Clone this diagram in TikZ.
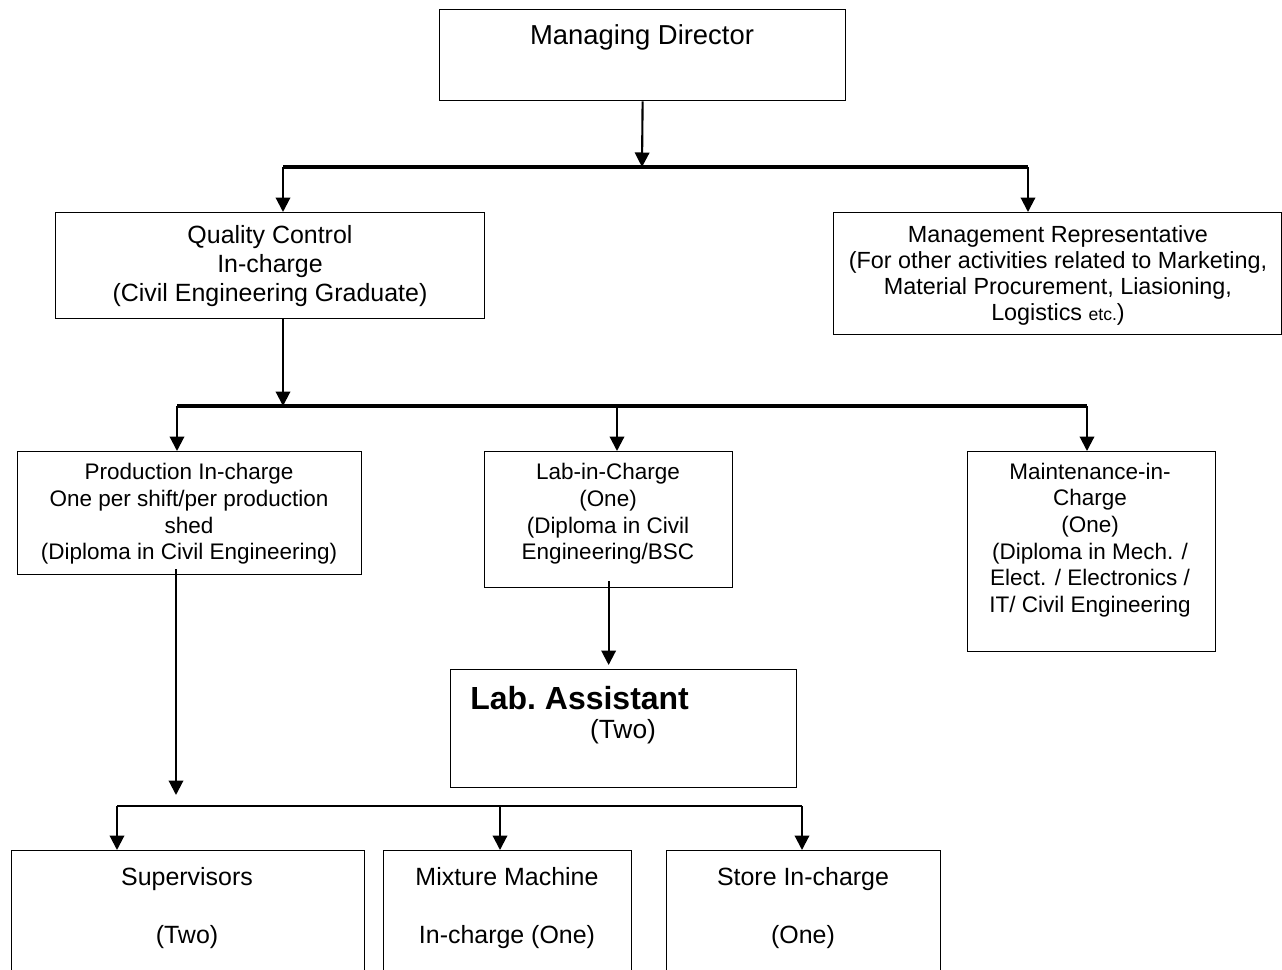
\documentclass[tikz,border=0pt]{standalone}
\usepackage{fontspec}
\setmainfont{Liberation Sans}
\usetikzlibrary{arrows.meta}

\begin{document}
\begin{tikzpicture}[x=0.02cm,y=-0.02cm,
	box/.style={draw,line width=0.75pt,inner sep=0pt,anchor=north west},
	arr/.style={-{Triangle[length=0.29cm,width=0.29cm]},line width=1.2pt},
	bar/.style={line width=2pt},
	txt/.style={align=center,inner sep=0pt,font=\fontsize{14.2}{16.5}\selectfont},
	bot/.style={txt,anchor=base},
	small/.style={align=center,inner sep=0pt,font=\fontsize{12.8}{15.2}\selectfont}]
						\useasboundingbox (0,0) rectangle (1282,970);
						%\draw[gray] (0,0) grid (1282,970);
						% boxes
						\node[box,minimum width=8.12cm,minimum height=1.82cm] (md) at (439,9) {};
						\node[box,minimum width=8.58cm,minimum height=2.12cm] (qc) at (55,212) {};
						\node[box,minimum width=8.96cm,minimum height=2.44cm] (mr) at (833,212) {};
						\node[box,minimum width=6.88cm,minimum height=2.46cm] (prod) at (17,451) {};
						\node[box,minimum width=4.96cm,minimum height=2.72cm] (lab) at (484,451) {};
						\node[box,minimum width=4.96cm,minimum height=4.00cm] (maint) at (967,451) {};
						\node[box,minimum width=6.92cm,minimum height=2.36cm] (asst) at (450,669) {};
						\node[box,minimum width=7.06cm,minimum height=2.8cm] (sup) at (11,850) {};
						\node[box,minimum width=4.96cm,minimum height=2.8cm] (mix) at (383,850) {};
						\node[box,minimum width=5.48cm,minimum height=2.8cm] (store) at (666,850) {};
						% texts
						\node[txt,font=\fontsize{15.6}{18}\selectfont] (mdt) at (642,37) {Managing Director};
						\node[txt] (qct) at (270,266) {Quality Control\\In-charge\\(Civil Engineering Graduate)};
						\node[txt,font=\fontsize{13.3}{14.8}\selectfont] (mrt) at (1058,275) {Management Representative\\(For other activities related to Marketing,\\Material Procurement, Liasioning,\\Logistics {\fontsize{10}{12}\selectfont etc.})};
						\node[small] (prodt) at (189,514) {Production In-charge\\One per shift/per production\\shed\\(Diploma in Civil Engineering)};
						\node[small] (labt) at (608,514) {Lab-in-Charge\\(One)\\(Diploma in Civil\\Engineering/BSC};
						\node[small] (maintt) at (1090,540) {Maintenance-in-\\Charge\\(One)\\(Diploma in Mech. /\\Elect. / Electronics /\\IT/ Civil Engineering};
						\node[anchor=west,inner sep=0pt,font=\bfseries\fontsize{18.2}{22}\selectfont] (asstt) at (470,698) {Lab.\ Assistant};
						\node[txt,font=\fontsize{15}{18}\selectfont] (twot) at (623,732) {(Two)};
						\node[bot] (supt) at (187,885) {Supervisors};
						\node[bot] (supn) at (187,943) {(Two)};
						\node[bot] (mixt) at (507,885) {Mixture Machine};
						\node[bot] (mixn) at (507,943) {In-charge (One)};
						\node[bot] (storet) at (803,885) {Store In-charge};
						\node[bot] (storen) at (803,943) {(One)};
						% first level
						\coordinate (b1) at (642,167);
						\coordinate (b1l) at (283,167);
						\coordinate (b1r) at (1028,167);
						\draw[arr] (md.south) -- (b1);
						\draw[bar] (b1l) -- (b1r);
						\draw[arr] (b1l) -- (b1l |- qc.north);
						\draw[arr] (b1r) -- (b1r |- mr.north);
						% second level
						\coordinate (b2q) at (283,406);
						\coordinate (b2l) at (177,406);
						\coordinate (b2m) at (617,406);
						\coordinate (b2r) at (1087,406);
						\draw[arr] (qc.south -| b2q) -- (b2q);
						\draw[bar] (b2l) -- (b2r);
						\draw[arr] (b2l) -- (b2l |- prod.north);
						\draw[arr] (b2m) -- (b2m |- lab.north);
						\draw[arr] (b2r) -- (b2r |- maint.north);
						\draw[arr] ([yshift=0.14cm]lab.south) -- ([yshift=0.08cm]lab.south |- asst.north);
						% third level
						\coordinate (pa) at (176,795);
						\coordinate (b3l) at (117,806);
						\coordinate (b3m) at (500,806);
						\coordinate (b3r) at (802,806);
						\draw[arr] ([yshift=0.12cm]prod.south -| pa) -- (pa);
						\draw[bar,line width=1.5pt] (b3l) -- (b3r);
						\draw[arr] (b3l) -- (b3l |- sup.north);
						\draw[arr] (b3m) -- (b3m |- mix.north);
						\draw[arr] (b3r) -- (b3r |- store.north);
\end{tikzpicture}
\end{document}
